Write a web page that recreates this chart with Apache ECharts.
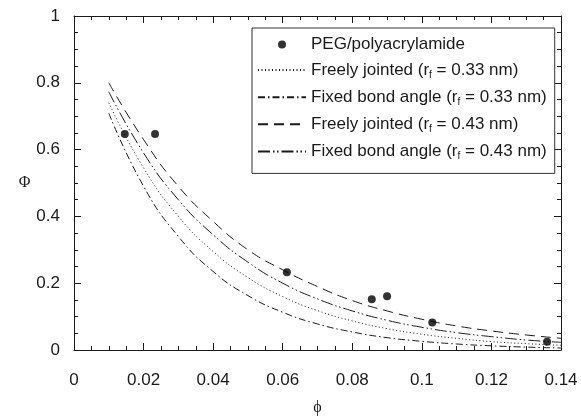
<!DOCTYPE html>
<html>
<head>
<meta charset="utf-8">
<script src="https://cdn.jsdelivr.net/npm/echarts@6/dist/echarts.min.js"></script>
<style>html,body{margin:0;padding:0;background:#fff}#c{width:581px;height:417px}</style>
</head>
<body>
<div id="c"></div>
<script>
// Measured data: PEG/polyacrylamide
const pegX = [0.0146, 0.0233, 0.0612, 0.0856, 0.0900, 0.1030, 0.1360];
const pegY = [0.647, 0.647, 0.233, 0.152, 0.161, 0.082, 0.025];

// Model curves
const curveX = [0.01, 0.02, 0.03, 0.04, 0.05, 0.06, 0.07, 0.08, 0.09, 0.10, 0.11, 0.12, 0.13, 0.14];
const fj033 = [0.740, 0.545, 0.400, 0.295, 0.217, 0.160, 0.118, 0.087, 0.064, 0.047, 0.035, 0.025, 0.019, 0.014];
const fba033 = [0.709, 0.490, 0.340, 0.235, 0.163, 0.113, 0.078, 0.054, 0.037, 0.026, 0.018, 0.0125, 0.0087, 0.006];
const fj043 = [0.800, 0.630, 0.490, 0.385, 0.300, 0.240, 0.190, 0.148, 0.117, 0.092, 0.072, 0.057, 0.045, 0.035];
const fba043 = [0.773, 0.590, 0.450, 0.345, 0.263, 0.200, 0.153, 0.117, 0.089, 0.068, 0.052, 0.040, 0.030, 0.023];

const xTicks = ['0', '0.02', '0.04', '0.06', '0.08', '0.1', '0.12', '0.14'];
const yTicks = ['0', '0.2', '0.4', '0.6', '0.8', '1'];

const names = [
  'PEG/polyacrylamide',
  'Freely jointed (r{s|f} = 0.33 nm)',
  'Fixed bond angle (r{s|f} = 0.33 nm)',
  'Freely jointed (r{s|f} = 0.43 nm)',
  'Fixed bond angle (r{s|f} = 0.43 nm)'
];

const zip = (xs, ys) => xs.map((x, i) => [x, ys[i]]);
const ink = '#1a1a1a';

function lineSeries(name, ys, dash) {
  return {
    name: name, type: 'line', data: zip(curveX, ys), smooth: true,
    showSymbol: false, symbol: 'none', silent: true,
    lineStyle: { color: ink, width: 1, type: dash },
    itemStyle: { color: ink }
  };
}

const axisCommon = {
  axisLine: { show: true, onZero: false, lineStyle: { color: ink, width: 1 } },
  axisTick: { show: true, inside: true, length: 7, lineStyle: { color: ink } },
  minorTick: { show: true, splitNumber: 4, length: 4, lineStyle: { color: ink } },
  splitLine: { show: false }
};

const chart = echarts.init(document.getElementById('c'), null, { renderer: 'canvas' });
chart.setOption({
  animation: false,
  backgroundColor: '#fff',
  grid: { left: 74, right: 20, top: 16, bottom: 67, containLabel: false, outerBoundsMode: 'none' },
  xAxis: [
    Object.assign({
      type: 'value', min: 0, max: 0.14, interval: 0.02, position: 'bottom',
      name: 'ϕ', nameLocation: 'middle', nameGap: 50,
      nameTextStyle: { fontFamily: 'Liberation Serif', fontSize: 16, color: ink },
      axisLabel: { margin: 22, fontFamily: 'Liberation Sans', fontSize: 17, color: ink,
        formatter: (v) => xTicks[Math.round(v / 0.02)] }
    }, axisCommon),
    Object.assign({
      type: 'value', min: 0, max: 0.14, interval: 0.02, position: 'top',
      axisLabel: { show: false }
    }, axisCommon)
  ],
  yAxis: [
    Object.assign({
      type: 'value', min: 0, max: 1, interval: 0.2, position: 'left',
      name: 'Φ', nameLocation: 'middle', nameGap: 43, nameRotate: 0,
      nameTextStyle: { fontFamily: 'Liberation Serif', fontSize: 16, color: ink, padding: [12, 0, 0, 0] },
      axisLabel: { margin: 14, fontFamily: 'Liberation Sans', fontSize: 17, color: ink,
        formatter: (v) => yTicks[Math.round(v / 0.2)] }
    }, axisCommon),
    Object.assign({
      type: 'value', min: 0, max: 1, interval: 0.2, position: 'right',
      axisLabel: { show: false }
    }, axisCommon)
  ],
  legend: {
    orient: 'vertical', left: 252, top: 28,
    backgroundColor: '#fff', borderColor: '#333', borderWidth: 1,
    padding: [8, 8, 12, 5], itemGap: 8.6, itemWidth: 48, itemHeight: 8,
    textStyle: {
      fontFamily: 'Liberation Sans', fontSize: 17, color: ink,
      rich: { s: { fontSize: 10, fontFamily: 'Liberation Sans', color: ink, padding: [10, 0, 0, 0] } }
    },
    data: names.map((n, i) => i === 0
      ? { name: n, icon: 'circle' }
      : { name: n, itemStyle: { opacity: 0, borderWidth: 0 } })
  },
  series: [
    {
      name: names[0], type: 'scatter', data: zip(pegX, pegY),
      symbol: 'circle', symbolSize: 8, itemStyle: { color: '#000' }, z: 5
    },
    lineSeries(names[1], fj033, [1, 2.5]),
    lineSeries(names[2], fba033, [7, 3, 1.5, 3]),
    lineSeries(names[3], fj043, [10, 6]),
    lineSeries(names[4], fba043, [12, 3, 1.5, 2.5, 1.5, 3])
  ]
});
</script>
</body>
</html>
